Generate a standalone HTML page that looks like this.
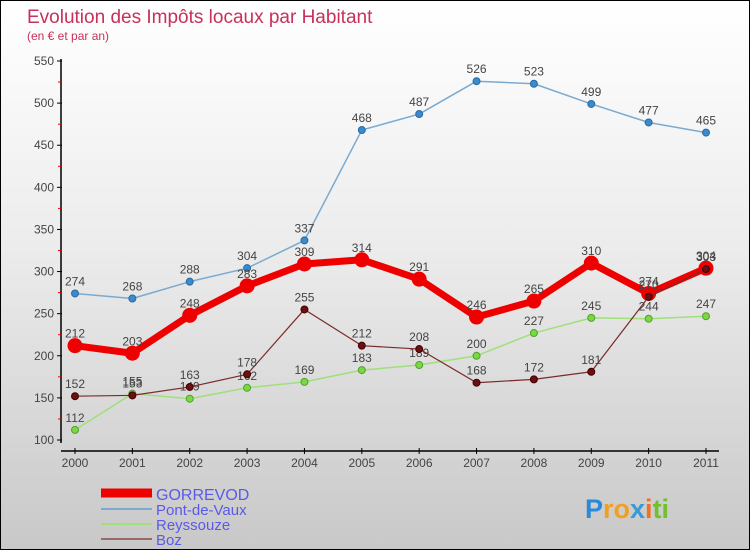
<!DOCTYPE html>
<html><head><meta charset="utf-8"><style>
body{margin:0;width:750px;height:550px;overflow:hidden;font-family:"Liberation Sans","DejaVu Sans",sans-serif}
#wrap{position:relative;width:748px;height:548px;border:1px solid #000;background:linear-gradient(#fff 0%,#ececec 45%,#c8c8c8 100%)}
</style></head><body>
<div id="wrap">
<svg id="chart" width="748" height="548" style="position:absolute;left:0;top:0"></svg>
</div>
<script>
const years=["2000","2001","2002","2003","2004","2005","2006","2007","2008","2009","2010","2011"];
const gorrevod=[212,203,248,283,309,314,291,246,265,310,274,304];
const pontDeVaux=[274,268,288,304,337,468,487,526,523,499,477,465];
const reyssouze=[112,155,149,162,169,183,189,200,227,245,244,247];
const boz=[152,153,163,178,255,212,208,168,172,181,270,303];
const yTicks=[100,150,200,250,300,350,400,450,500,550];
const NS="http://www.w3.org/2000/svg";
const svg=document.getElementById('chart');
function X(i){return 74+i*(705-74)/11;}
function Y(v){return 439-(v-100)*(439-60)/450;}
function mk(t,a,p){const e=document.createElementNS(NS,t);for(const k in a)e.setAttribute(k,a[k]);(p||svg).appendChild(e);return e;}
function txt(x,y,s,size,fill,anchor){const e=mk('text',{x:x,y:y,'font-size':size,fill:fill,'text-anchor':anchor||'middle'});e.textContent=s;return e;}
let t=txt(26,22,"Evolution des Impôts locaux par Habitant",19,"#c8305a","start");

t=txt(26,39,"(en € et par an)",12,"#c8305a","start");

let ax=mk('line',{x1:60,y1:58,x2:60,y2:442,stroke:'#000','stroke-width':1.5});

yTicks.forEach((v,i)=>{
 const l=mk('line',{x1:56,y1:Y(v),x2:61,y2:Y(v),stroke:'#000'});
 
 const lb=txt(53,Y(v)+4,String(v),12,"#444","end");
 
 if(i<yTicks.length-1){const m=mk('line',{x1:57,y1:Y(v+25),x2:60,y2:Y(v+25),stroke:'#e00'});
 }
});
ax=mk('line',{x1:60,y1:450,x2:718,y2:450,stroke:'#000','stroke-width':1.5});

years.forEach((y,i)=>{
 const l=mk('line',{x1:X(i),y1:447,x2:X(i),y2:453,stroke:'#000'});
 
 const lb=txt(X(i),466,y,12,"#444");
 
});
function series(data,name,color,width,r,dot,dotStroke){
 const g=mk('g',{});
 
 const p=mk('polyline',{points:data.map((v,i)=>X(i)+','+Y(v)).join(' '),fill:'none',stroke:color,'stroke-width':width,'stroke-linejoin':'round'},g);
 
 data.forEach((v,i)=>{
  const c=mk('circle',{cx:X(i),cy:Y(v),r:r,fill:dot,stroke:dotStroke,'stroke-width':1},g);
  
  const lb=txt(X(i),Y(v)-8,String(v),12,"#444");
  
 });
}
series(pontDeVaux,'pont-de-vaux','#7aaad0',1.5,3.5,'#3a8ad0','#2a6aa0');
series(reyssouze,'reyssouze','#9ee07a',1.5,3.5,'#7ad840','#50a030');
series(gorrevod,'gorrevod','#ee0000',7,7,'#ee0000','#ee0000');
series(boz,'boz','#7a2a2a',1.2,3.5,'#6a1010','#400');
const leg=[['GORREVOD','#ee0000',9,492],['Pont-de-Vaux','#7aaad0',2,508],['Reyssouze','#9ee07a',2,523],['Boz','#9a6a6a',2,538]];
leg.forEach(e=>{
 const l=mk('line',{x1:100,y1:e[3],x2:151,y2:e[3],stroke:e[1],'stroke-width':e[2]});
 
 const lb=txt(155,e[3]+(e[2]>5?7:6),e[0],e[2]>5?16:15,"#5a5ae8","start");
 
});
const logo=mk('text',{x:584,y:517,'font-size':27,'font-weight':'bold','font-family':'Liberation Sans, sans-serif'});

[['P','#2a8ad8'],['ro','#f0a020'],['x','#3a9ad8'],['i','#f07020'],['ti','#70c030']].forEach(s=>{const ts=mk('tspan',{fill:s[1]},logo);ts.textContent=s[0];});
</script>
</body></html>
